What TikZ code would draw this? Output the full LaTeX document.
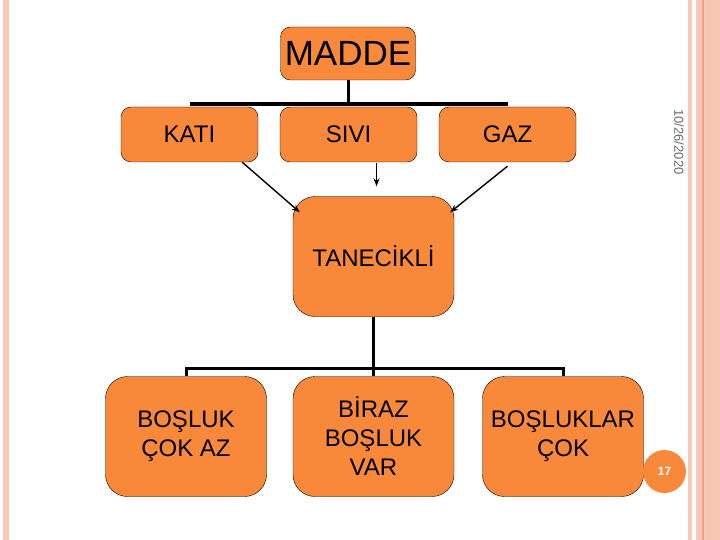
\documentclass[tikz,border=0pt]{standalone}
\usepackage{fontspec}
\setmainfont{Liberation Sans}
\usepackage{xcolor}
\usetikzlibrary{arrows.meta, calc}

\definecolor{boxorange}{RGB}{249,137,58}
\definecolor{framepink}{RGB}{249,199,184}
\definecolor{framedark}{RGB}{242,160,128}
\definecolor{dategray}{RGB}{105,105,105}

\begin{document}
\begin{tikzpicture}[x=1pt,y=-1pt]

\tikzstyle{bigbox} =
[rectangle,
rounded corners=10pt,
minimum width=135pt,
minimum height=53pt,
inner sep=0pt,
text centered,
draw=black,
fill=boxorange,
font=\fontsize{35}{40}\selectfont]

\tikzstyle{statebox} =
[rectangle,
rounded corners=10pt,
minimum width=137pt,
minimum height=55pt,
inner sep=0pt,
text centered,
draw=black,
fill=boxorange,
font=\fontsize{24}{29}\selectfont]

\tikzstyle{tallbox} =
[rectangle,
rounded corners=22pt,
minimum width=161pt,
minimum height=120pt,
inner sep=0pt,
align=center,
draw=black,
fill=boxorange,
font=\fontsize{24}{29}\selectfont]

\tikzstyle{joint} = [line width=3pt]
\tikzstyle{pointer} = [line width=1.4pt, -{Stealth[length=8pt,width=6pt]}]

% page frame
\useasboundingbox (0,0) rectangle (720,540);
\fill[framepink] (3,0) rectangle (9,540);
\fill[framepink] (688,0) rectangle (692,540);
\fill[framepink] (696,0) rectangle (720,540);
\fill[framedark] (702,0) rectangle (703.5,540);
\fill[framedark!60] (707,0) rectangle (720,540);

\node (madde) [bigbox] at (348,53.5) {MADDE};

\node (kati) [statebox] at (189.5,134.5) {KATI};
\node (sivi) [statebox] at (348.5,134.5) {SIVI};
\node (gaz) [statebox] at (507.5,134.5) {GAZ};

\node (tanecikli) [tallbox] at (373.5,256.5) {TANECİKLİ};

\node (az) [tallbox] at (186,436.5) {BOŞLUK\\ÇOK AZ};
\node (biraz) [tallbox] at (373.5,436.5) {BİRAZ\\BOŞLUK\\VAR};
\node (cok) [tallbox] at (563,436.5) {BOŞLUKLAR\\ÇOK};

\node (date) [rotate=-90, text=dategray, font=\fontsize{13}{13}\selectfont] at (679,142) {10/26/2020};
\node (page) [circle, fill=boxorange, minimum size=43pt, inner sep=0pt,
  text=white, font=\fontsize{12}{12}\selectfont\bfseries] at (664.5,471.5) {17};

% tree lines
\coordinate (topbar) at (0,104);
\coordinate (lowbar) at (0,368);
\draw[joint] (madde.south) -- (madde.south |- topbar);
\draw[line width=4pt] (kati.north |- topbar) -- (gaz.north |- topbar);

\draw[joint] (tanecikli.south) -- (tanecikli.south |- lowbar);
\draw[joint] (az.north) -- (az.north |- lowbar) -- (cok.north |- lowbar) -- (cok.north);
\draw[joint] (biraz.north |- lowbar) -- (biraz.north);

% arrows
\draw[pointer] ($(kati.south east)+(-16,0)$) -- ($(tanecikli.north west)+(7,16)$);
\draw[pointer] ($(sivi.south -| tanecikli.north)+(3,1)$) -- ($(tanecikli.north)+(3,-10)$);
\draw[pointer] ($(gaz.south)+(0,4)$) -- ($(tanecikli.north east)+(-4,16)$);

\end{tikzpicture}
\end{document}
